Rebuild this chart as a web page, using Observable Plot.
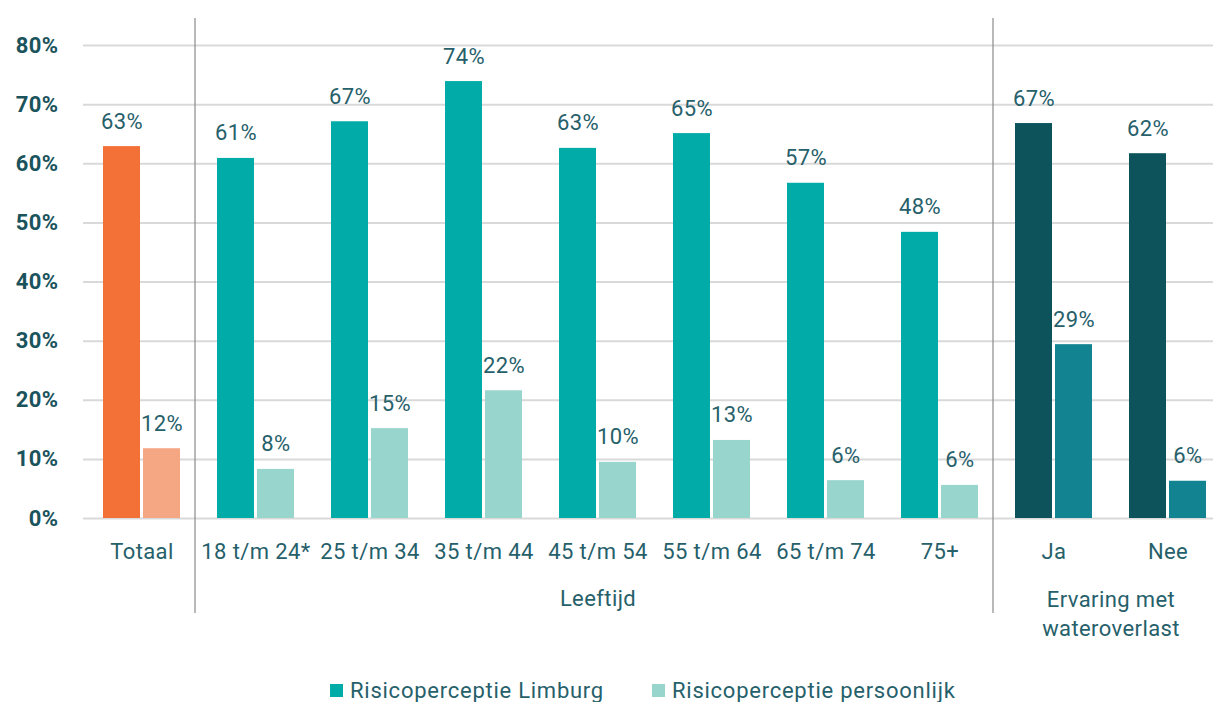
<!DOCTYPE html>
<html><head><meta charset="utf-8">
<script src="https://cdn.jsdelivr.net/npm/d3@7"></script>
<script src="https://cdn.jsdelivr.net/npm/@observablehq/plot@0.6"></script>
<style>
body{margin:0;background:#fff;font-family:Roboto,sans-serif;}
#chart svg{display:block}
#legend{display:flex;align-items:center;height:30px;font-size:22px;letter-spacing:0.75px;color:#26606a;padding-left:330px;}
#legend .item{display:flex;align-items:center;margin-right:48px;}
#legend .sw{width:13px;height:13px;margin-right:7px;}
</style></head><body><div id="chart"></div><div id="legend"></div>
<script>
const categories = ["Totaal","18 t/m 24*","25 t/m 34","35 t/m 44","45 t/m 54","55 t/m 64","65 t/m 74","75+","Ja","Nee"];
const groups = ["Totaal","Leeftijd","Leeftijd","Leeftijd","Leeftijd","Leeftijd","Leeftijd","Leeftijd","Ervaring","Ervaring"];
const limburg = [62.9,60.9,67.1,73.9,62.6,65.1,56.7,48.4,66.8,61.7];
const persoonlijk = [11.8,8.3,15.2,21.6,9.5,13.2,6.4,5.6,29.4,6.3];
const seriesNames = ["Risicoperceptie Limburg","Risicoperceptie persoonlijk"];
const colorsLimburg = {Totaal:"#f37036", Leeftijd:"#00aba8", Ervaring:"#0c535c"};
const colorsPersoonlijk = {Totaal:"#f5a683", Leeftijd:"#98d5cd", Ervaring:"#128390"};
const yTicks = [0,10,20,30,40,50,60,70,80];
const separatorsAt = ["18 t/m 24*","Ja"];
const groupLeeftijd = {label:"Leeftijd", at:"45 t/m 54"};
const groupErvaring = {label:"Ervaring met\nwateroverlast", at:"Ja"};

const rowsL = categories.map((c,i)=>({cat:c, group:groups[i], value:limburg[i]}));
const rowsP = categories.map((c,i)=>({cat:c, group:groups[i], value:persoonlijk[i]}));
const textColor = "#26606a";

const chart = Plot.plot({
  width:1213, height:675,
  marginLeft:83, marginRight:0, marginTop:18, marginBottom:62,
  x:{domain:categories, range:[83,1225], paddingInner:0.326, paddingOuter:0.163, axis:null},
  y:{domain:[0,80], range:[518,45], axis:null, label:null},
  style:{fontFamily:"Roboto, sans-serif", fontSize:"22px", color:textColor, background:"#fff", letterSpacing:"0.4px"},
  marks:[
    Plot.ruleY(yTicks, {stroke:"#d9d9d9", strokeWidth:2}),
    Plot.axisY({ticks:yTicks, tickSize:0, tickPadding:25, tickFormat:d=>d+"%", label:null, fontWeight:"bold", color:"#1a535c", fontSize:22}),
    Plot.ruleX(separatorsAt, {x:d=>d, dx:-61, stroke:"#8a8a8a", strokeWidth:1.2}),
    Plot.barY(rowsL, {x:"cat", y:"value", fill:d=>colorsLimburg[d.group], insetRight:40}),
    Plot.barY(rowsP, {x:"cat", y:"value", fill:d=>colorsPersoonlijk[d.group], insetLeft:40}),
    Plot.text(rowsL, {x:"cat", y:"value", text:d=>Math.round(d.value)+"%", dx:-20, dy:-18, lineAnchor:"bottom", fill:textColor, fontSize:22}),
    Plot.text(rowsP, {x:"cat", y:"value", text:d=>Math.round(d.value)+"%", dx:20, dy:-18, lineAnchor:"bottom", fill:textColor, fontSize:22}),
    Plot.text(categories, {x:d=>d, y:0, dy:33, text:d=>d, lineAnchor:"middle", fill:textColor, fontSize:22}),
    Plot.text([groupLeeftijd], {x:"at", y:0, dy:80, text:"label", lineAnchor:"middle", fill:textColor, fontSize:22}),
    Plot.text([groupErvaring], {x:"at", y:0, dy:68, dx:57, text:"label", lineAnchor:"top", lineHeight:1.32, fill:textColor, fontSize:22})
  ]
});
document.getElementById("chart").append(chart);

const legend = document.getElementById("legend");
seriesNames.forEach((name,i)=>{
  const item = document.createElement("div"); item.className="item";
  const sw = document.createElement("span"); sw.className="sw";
  sw.style.background = i===0 ? colorsLimburg.Leeftijd : colorsPersoonlijk.Leeftijd;
  const t = document.createElement("span"); t.textContent = name;
  item.append(sw,t); legend.append(item);
});
</script>
</body></html>
